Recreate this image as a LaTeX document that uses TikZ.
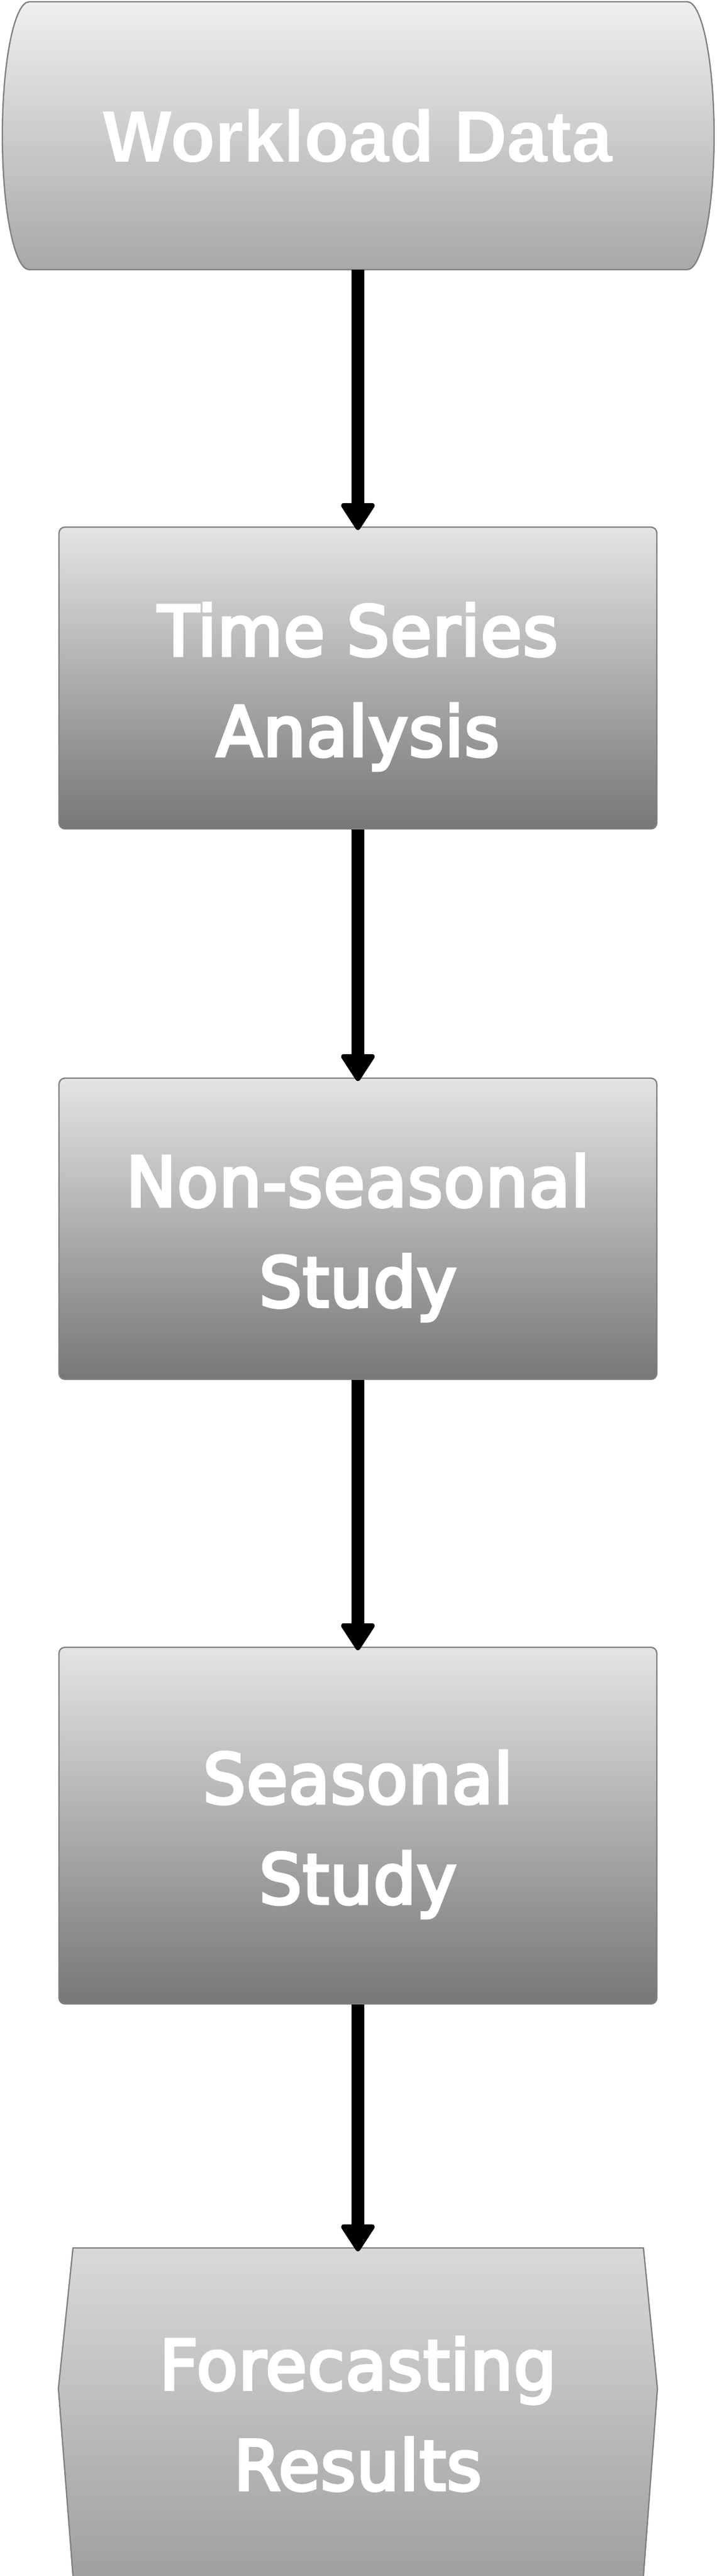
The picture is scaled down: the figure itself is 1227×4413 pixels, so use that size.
\documentclass[tikz,border=0pt]{standalone}
\usepackage{fontspec}
\usetikzlibrary{arrows.meta}

\newfontfamily\datafont{Liberation Sans}
\newfontfamily\boxfont[FakeBold=4.5,FakeStretch=0.97,LetterSpace=1.5]{DejaVu Sans}

\definecolor{boxline}{HTML}{808080}
\definecolor{datatop}{HTML}{EFEFEF}
\definecolor{databot}{HTML}{A8A8A8}
\definecolor{steptop}{HTML}{E4E4E4}
\definecolor{stepbot}{HTML}{777777}
\definecolor{restop}{HTML}{D9D9D9}
\definecolor{resbot}{HTML}{A0A0A0}

\begin{document}
\begin{tikzpicture}[x=0.02cm, y=-0.02cm,
  stepbox/.style={draw=boxline, line width=1.3pt, rounded corners=0.2cm,
    top color=steptop, bottom color=stepbot, text=white, align=center,
    minimum width=20.48cm, inner sep=0pt, text height=168pt, text depth=16pt,
    font=\boxfont\fontsize{67.2}{97.9}\selectfont},
  outtext/.style={text=white, align=center, inner sep=0pt,
    text height=168pt, text depth=16pt,
    font=\boxfont\fontsize{67.2}{97.9}\selectfont},
  flow/.style={line width=12.5pt, shorten >=-0.12cm,
    -{Triangle[width=1.25cm,length=1cm,round,line width=5pt]}}]

  \useasboundingbox (0,0) rectangle (1227,4413);

  % workload data (cylinder)
  \shadedraw[top color=datatop, bottom color=databot, draw=boxline, line width=1.3pt]
    (50,3) -- (1177,3) arc[start angle=90, end angle=-90, x radius=0.92cm, y radius=4.59cm]
    -- (50,462) arc[start angle=270, end angle=90, x radius=0.92cm, y radius=4.59cm] -- cycle;
  \node[text=white, inner sep=0pt, minimum height=9.18cm,
    font=\datafont\bfseries\fontsize{71.1}{85}\selectfont] (data) at (613,232.5) {Workload Data};

  % steps
  \node[stepbox, minimum height=10.34cm] (tsa) at (613,1161.5) {Time Series\\Analysis};
  \node[stepbox, minimum height=10.32cm] (nss) at (613,2105) {Non-seasonal\\Study};
  \node[stepbox, minimum height=12.22cm] (ss) at (613,3127.5) {Seasonal\\Study};

  % forecasting results
  \shade[top color=restop, bottom color=resbot]
    (125,3851) -- (1102,3851) -- (1126,4092) -- (1102,4413) -- (125,4413) -- (100,4092) -- cycle;
  \draw[boxline, line width=1.3pt]
    (125,4413) -- (100,4092) -- (125,3851) -- (1102,3851) -- (1126,4092) -- (1102,4413);
  \node[outtext, minimum height=11.24cm] (res) at (613,4132) {Forecasting\\Results};

  \draw[flow] (data.south) -- (tsa.north);
  \draw[flow] (tsa.south) -- (nss.north);
  \draw[flow] (nss.south) -- (ss.north);
  \draw[flow] (ss.south) -- (res.north);

\end{tikzpicture}
\end{document}
